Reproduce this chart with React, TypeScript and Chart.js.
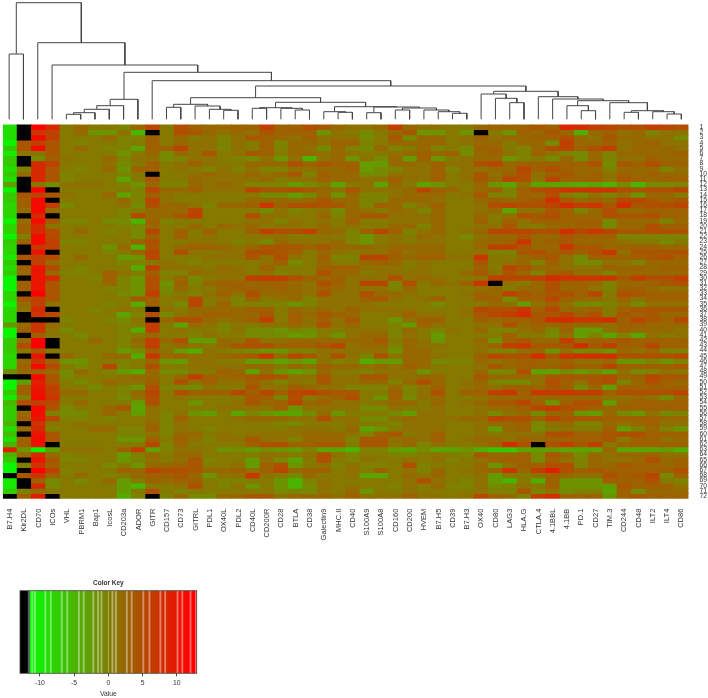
import React, { useEffect, useRef } from "react";
import { Chart, registerables } from "chart.js";

Chart.register(...registerables);

const columnLabels = ["B7.H4","Kir2DL","CD70","ICOs","VHL","PBRM1","Bap1","IcosL","CD203a","ADOR","GITR","CD157","CD73","GITRL","PDL1","OX40L","PDL2","CD40L","CD200R","CD28","BTLA","CD38","Galectin9","MHC.II","CD40","S100A9","S100A8","CD160","CD200","HVEM","B7.H5","CD39","B7.H3","OX40","CD80","LAG3","HLA.G","CTLA.4","4.1BBL","4.1BB","PD.1","CD27","TIM.3","CD244","CD48","ILT2","ILT4","CD86"];
const rowLabels = ["1","2","3","4","5","6","7","8","9","10","11","12","13","14","15","16","17","18","19","20","21","22","23","24","25","26","27","28","29","30","31","32","33","34","35","36","37","38","39","40","41","42","43","44","45","46","47","48","49","50","51","52","53","54","55","56","57","58","59","60","61","62","63","64","65","66","67","68","69","70","71","72"];

const r01 = [-9,-12,12,8, 0,2,0,0,-1,2,6,0,5,3,2,2,3, 3,7,3,3,5,4,2,1,1,2,7,2,1,1,0,0,2, 3,3,3,4,3,10,9,7,6,5,5,7,6,5];
const r02 = [-9,-12,7,6, 0,2,-3,-3,1,-7,-12,0,5,4,2,1,2, 1,4,3,3,3,-3,1,0,-2,0,2,4,-3,-3,0,-3,-12, 0,-3,3,2,4,2,-6,2,3,1,2,-1,1,1];
const r03 = [-9,-12,11,6, 0,0,0,2,-1,-1,3,0,2,0,1,-1,1, 4,3,2,1,3,1,1,1,-2,0,4,-2,2,2,0,1,3, 1,2,2,3,3,5,2,1,4,2,2,1,1,-2];
const r04 = [-11,4,6,4, 0,-1,0,0,-1,0,3,0,2,1,1,-1,1, 0,3,-1,2,2,1,3,3,-1,0,2,2,2,2,0,1,2, 2,0,2,2,-2,7,2,2,3,1,2,3,1,1];
const r05 = [-7,4,11,4, 0,2,0,-1,-1,-5,3,3,6,1,1,-1,1, 0,3,-1,2,1,-2,2,-1,-2,2,-1,0,2,-1,0,-2,3, 3,0,-1,2,5,6,3,5,7,1,2,2,2,1];
const r06 = [-10,1,1,4, 0,0,0,0,-3,0,2,-2,2,1,4,0,1, 4,3,0,2,2,1,2,1,0,0,1,2,3,2,3,-2,2, 3,1,-1,3,1,-1,-2,2,-1,2,2,2,2,3];
const r07 = [-7,-12,-1,3, 1,0,0,2,-1,1,1,-2,-1,1,1,0,-1, -2,1,-3,1,-7,1,2,-3,1,-2,2,-4,3,-3,0,1,2, 2,-3,-1,0,-2,2,-2,2,-1,1,1,3,2,2];
const r08 = [-7,-12,8,6, 0,0,0,1,-2,0,3,0,1,3,1,0,0, 2,2,2,5,3,4,3,3,-4,-4,2,2,1,3,1,1,5, 6,2,3,3,3,3,3,5,-2,4,3,5,3,3];
const r09 = [-9,0,8,4, 0,-1,0,2,-3,3,3,0,1,0,-1,1,-1, 1,-1,-1,1,1,2,2,3,-4,-2,-1,1,1,3,-1,1,1, 2,2,6,3,5,3,2,2,-1,2,2,2,-1,1];
const r10 = [-7,2,8,4, -1,0,0,0,-1,0,-12,0,0,1,2,1,1, 2,1,2,4,-1,3,2,2,-2,-2,1,1,1,3,0,1,4, 1,3,5,1,3,4,2,3,1,3,2,3,2,2];
const r11 = [-9,-12,8,4, -1,0,0,0,-5,0,4,0,0,2,1,1,1, 1,2,0,1,1,3,2,2,1,1,3,1,1,3,0,1,4, 2,6,5,1,6,3,3,3,1,4,3,2,3,3];
const r12 = [-3,-12,1,-1, 1,1,1,0,-1,-3,2,-1,-1,2,1,2,1, -1,-1,-1,-4,-2,0,-5,0,1,-5,2,0,-5,-3,0,0,2, -3,-5,1,-5,-5,-5,-6,-5,-7,-2,-7,-2,-2,-1];
const r13 = [-11,-12,12,-12, 0,0,0,0,0,-1,6,2,2,3,1,1,1, 6,4,4,5,4,2,1,4,1,1,1,2,6,3,2,0,2, 3,-1,3,5,6,8,8,8,8,5,4,5,5,6];
const r14 = [-7,4,6,4, 1,0,0,2,-5,-1,3,1,0,0,0,0,0, 0,-2,-2,-4,-2,2,-3,2,-1,-1,1,2,2,2,0,1,4, -1,-1,3,2,5,0,-2,1,-1,1,-3,2,2,0];
const r15 = [-7,3,11,-12, 0,0,0,0,2,-1,6,1,0,0,0,0,0, 2,2,2,1,2,4,2,2,-1,-1,2,2,2,1,0,0,2, 3,2,3,4,9,4,2,3,2,6,6,4,3,4];
const r16 = [-8,3,11,6, -2,0,0,0,1,-2,5,2,2,1,-1,2,2, 3,8,3,5,5,4,4,2,-1,3,2,-1,1,3,0,0,1, 5,6,5,5,6,9,7,8,4,9,4,5,5,6];
const r17 = [-8,2,11,2, 0,0,0,0,-1,0,2,2,2,6,0,0,0, 0,-2,1,-1,0,1,-2,2,1,0,2,1,-1,2,0,0,1, 2,-5,1,1,4,3,-1,2,5,2,2,3,3,3];
const r18 = [-8,-12,8,-12, 0,0,0,0,-1,6,2,2,4,7,0,0,0, 5,1,1,0,0,2,-1,2,4,4,1,1,1,2,0,0,2, 0,1,5,4,5,3,2,2,5,4,4,5,3,3];
const r19 = [-11,2,11,4, -1,-1,0,-2,-2,-7,3,-1,0,0,0,0,0, 1,1,-1,1,0,1,0,3,0,0,1,1,1,2,0,0,3, 0,3,1,3,3,3,3,3,-2,2,2,2,-1,2];
const r20 = [-8,3,8,1, 0,0,0,0,-1,-2,2,0,0,2,0,2,1, 2,0,1,1,0,2,0,1,0,0,2,2,-1,2,0,0,1, 1,4,0,0,2,2,3,3,-2,2,2,5,3,3];
const r21 = [-8,3,8,5, 0,2,0,-1,0,-2,6,0,3,0,3,0,0, 3,7,5,5,7,2,2,-1,3,6,3,-1,1,2,0,1,2, 6,6,6,5,5,9,6,8,6,4,4,5,5,5];
const r22 = [-11,0,11,5, 0,0,0,0,0,-2,3,0,3,0,1,0,0, 0,1,1,0,0,1,0,-1,-3,0,1,0,2,1,0,-2,1, 2,2,4,2,2,4,3,3,3,-1,-1,-1,-1,-1];
const r23 = [-7,3,11,6, -1,-1,0,0,0,3,5,0,0,1,1,0,-1, 0,-2,2,1,1,1,2,-1,-3,0,1,0,1,1,0,0,2, 2,3,8,2,3,4,2,2,2,1,0,0,-2,0];
const r24 = [-8,-12,7,6, 0,0,0,-3,2,-7,4,0,2,3,3,2,1, 2,4,4,4,3,4,2,2,2,1,2,2,2,2,0,0,2, 7,7,4,2,2,8,4,4,2,3,3,3,2,2];
const r25 = [-8,-12,10,-12, 0,0,0,-1,0,3,6,0,5,1,0,1,1, 5,5,4,3,0,2,1,0,1,1,3,1,2,2,0,0,1, -1,-1,4,5,3,4,3,5,8,1,4,4,4,5];
const r26 = [-10,4,6,5, 0,2,0,0,-4,-3,6,0,0,0,1,1,1, 4,1,5,1,0,3,-1,-1,6,6,3,2,3,3,1,1,8, 0,0,2,3,4,1,-2,3,3,3,3,4,5,3];
const r27 = [-7,-12,6,2, 0,0,0,0,-1,-1,0,1,0,-1,0,0,0, 0,1,3,-2,0,2,0,0,2,3,2,0,1,0,0,0,4, 0,1,2,-1,3,1,-2,-2,1,1,-1,2,2,2];
const r28 = [-9,3,10,5, 0,-1,0,0,0,-6,7,1,1,1,0,2,1, 0,3,0,0,0,3,3,3,1,1,1,0,1,0,0,0,3, 0,6,4,2,2,1,1,1,3,2,3,2,3,3];
const r29 = [-7,2,10,2, -1,-1,0,3,1,0,3,-1,-1,2,1,1,1, 0,1,-1,0,0,5,2,2,0,1,1,1,1,0,0,2,4, 1,4,2,-1,3,4,1,1,-1,2,2,2,2,2];
const r30 = [-11,-12,10,8, 0,0,-1,3,-1,-3,5,0,2,-2,0,1,1, 7,7,7,5,3,2,3,1,1,1,5,1,2,1,0,0,1, 7,6,6,7,9,8,8,8,8,4,7,5,5,7];
const r31 = [-11,3,10,4, 0,0,0,2,-1,-3,5,-3,3,-1,2,3,3, 2,3,3,2,1,5,3,1,6,6,-1,5,0,2,1,3,8, -12,1,0,2,5,3,3,2,-1,2,2,3,4,5];
const r32 = [-11,3,10,4, 0,0,0,-1,-1,-3,5,-2,2,0,0,2,3, 3,2,3,2,1,3,2,1,1,1,-1,2,0,0,0,0,1, 2,0,2,2,5,2,3,1,-1,3,3,2,1,1];
const r33 = [-8,-12,12,4, 0,0,0,0,-2,-3,7,-1,0,-1,1,3,1, 5,2,2,2,1,5,1,1,5,2,2,1,0,0,0,1,3, 2,7,4,3,4,5,3,6,0,5,4,3,3,3];
const r34 = [-8,4,6,4, 0,0,0,0,0,4,3,0,1,6,0,1,-1, 3,0,1,2,-1,1,1,1,3,4,1,0,1,3,0,0,3, 3,-2,3,3,6,3,2,2,0,3,1,3,3,3];
const r35 = [-11,2,6,1, 0,0,0,-1,0,-6,3,0,-2,6,0,3,-1, -1,-1,-1,-3,-1,1,1,1,1,0,0,0,0,-2,0,0,0, 2,1,-4,1,3,1,-2,-2,-1,1,-2,1,1,1];
const r36 = [-8,1,8,-12, 0,0,-1,0,1,0,-12,1,0,2,2,2,2, 3,3,0,2,1,2,1,3,1,1,1,1,0,0,0,1,6, 5,5,8,3,6,2,2,3,0,3,4,4,4,4];
const r37 = [-8,-12,7,5, 0,0,0,0,-5,-1,5,-2,1,2,3,3,2, 2,4,0,3,2,4,3,2,0,0,1,3,1,1,0,1,4, 6,7,9,4,4,6,3,5,0,4,3,4,2,2];
const r38 = [-8,-12,-12,-12, -1,0,0,-1,-2,1,-12,2,5,5,2,1,2, 3,7,0,3,1,3,1,4,0,0,-3,1,3,3,0,0,3, 2,3,3,4,9,9,8,8,9,3,6,4,3,6];
const r39 = [-2,2,7,2, 0,0,0,0,-1,0,7,0,-5,2,1,-1,0, 0,1,1,2,1,5,1,2,0,0,-1,-4,3,1,0,0,1, 1,5,2,3,2,3,2,2,1,3,3,2,2,2];
const r40 = [-11,3,7,1, -2,0,0,0,-1,-6,7,0,1,0,0,-1,1, -2,-2,-3,-1,-2,0,0,1,1,1,-1,2,0,-1,1,0,2, -1,-1,1,2,-1,3,-4,-4,1,3,2,2,2,1];
const r41 = [-11,-12,3,1, 0,-2,0,0,-1,0,2,0,0,-1,1,0,0, -2,-2,-2,-4,-3,0,-3,1,2,2,-1,1,0,-4,0,0,0, 0,3,0,0,-2,1,-4,-1,-5,-1,-5,1,0,1];
const r42 = [-7,2,12,-12, 0,0,2,0,-1,2,7,2,5,-4,-4,2,1, 4,1,1,2,2,2,2,2,2,4,0,2,1,-3,0,0,2, -3,3,4,2,2,7,2,3,3,4,3,3,3,3];
const r43 = [-7,5,12,-12, 0,0,0,0,-1,1,7,0,2,1,0,2,4, 5,5,3,3,3,4,6,1,2,2,-1,2,1,1,0,0,1, 3,7,8,4,4,4,9,4,7,3,3,6,3,3];
const r44 = [-7,1,4,1, 0,0,0,0,-4,-2,3,1,-4,-6,1,0,-1, -2,-3,-3,-1,-1,1,1,1,1,1,-3,2,2,0,0,0,1, -1,-1,1,2,-3,1,-2,-1,-3,2,1,2,-1,-1];
const r45 = [-8,-12,10,-12, 2,0,0,2,2,-6,8,2,3,1,1,2,3, 4,8,2,6,4,1,5,1,-1,5,1,2,2,1,0,0,3, 6,5,5,9,4,8,9,9,9,5,5,5,5,6];
const r46 = [-8,2,7,3, -3,-3,0,0,-1,0,2,-3,-4,1,1,0,0, -4,-3,-5,-3,-5,1,-1,0,-6,-4,-4,2,2,-2,-1,-1,2, 1,2,3,3,2,3,1,1,2,-3,-3,-1,-3,-1];
const r47 = [-8,3,11,5, 0,-2,0,6,-1,0,5,0,0,1,1,1,1, 2,2,0,2,1,3,2,2,1,2,1,3,2,0,0,0,1, 4,2,3,3,3,4,3,3,6,3,3,3,3,4];
const r48 = [-1,2,3,2, -2,2,0,-1,-4,-6,2,-2,-2,0,0,3,2, -5,1,-3,-5,-3,2,0,0,-1,1,1,1,-3,0,0,0,2, -2,-1,5,-5,-5,-2,-4,-2,-5,1,-2,-1,1,0];
const r49 = [-12,-12,11,4, -2,0,0,0,1,2,2,0,2,7,3,2,3, 4,5,4,1,1,4,1,1,4,4,1,1,2,2,0,0,4, 2,2,2,1,4,4,4,4,5,2,3,6,4,4];
const r50 = [-11,-3,9,4, 0,-2,0,2,1,1,3,0,5,1,3,1,1, 3,1,-1,1,0,4,1,1,2,2,-1,2,5,2,0,1,2, -1,-2,-2,1,5,3,1,4,5,-1,2,5,3,2];
const r51 = [-11,3,10,6, 0,0,-2,0,-1,-3,5,-1,-1,-2,1,0,0, 4,1,1,3,2,1,1,-1,-1,-1,2,-1,1,3,0,1,2, 1,3,3,2,4,3,-2,2,-4,3,3,3,3,3];
const r52 = [-7,3,10,6, 2,2,0,0,-1,2,6,0,5,3,3,3,6, 3,6,3,6,7,5,4,4,0,0,3,-1,1,5,0,3,3, 7,8,3,8,7,8,7,7,3,5,5,5,5,6];
const r53 = [-10,0,11,7, 0,0,0,0,-2,1,5,0,1,0,0,0,0, 4,3,-1,5,0,2,3,5,0,-3,3,-2,1,2,0,0,1, 2,2,3,2,2,2,2,2,1,1,2,1,-2,2];
const r54 = [-5,5,6,5, 0,2,0,0,0,-4,5,0,0,-3,0,0,1, 4,2,3,6,2,3,1,1,0,1,2,2,0,2,0,1,2, 4,4,6,3,-3,3,5,5,-4,2,3,3,3,3];
const r55 = [-7,-12,11,4, -2,0,0,2,4,-5,1,0,0,0,0,1,1, 1,1,3,-3,1,1,1,1,-2,-2,1,0,0,1,0,0,1, 2,2,3,6,8,5,4,3,2,3,3,3,3,3];
const r56 = [-7,2,11,0, -2,-2,0,2,0,-4,1,-1,1,-3,-4,0,-5, -1,-3,-5,-5,-2,2,-3,0,0,0,-2,-4,1,1,0,0,1, -2,1,2,-2,2,3,-3,-4,2,-2,-3,1,-2,-1];
const r57 = [-7,3,10,5, -1,-1,0,-1,0,0,1,-1,3,0,0,0,1, 2,2,2,1,1,5,1,1,-2,-2,1,2,1,1,1,2,2, 6,5,5,3,6,4,4,4,3,3,3,3,2,2];
const r58 = [-5,-12,7,1, 0,1,0,0,0,0,2,-1,1,0,0,0,0, 0,0,-1,-2,0,0,0,1,0,0,-1,1,1,1,0,0,1, 2,2,3,-2,1,2,-1,-1,2,1,2,3,1,1];
const r59 = [-9,2,8,0, 0,0,2,2,-1,-1,3,-1,1,0,-1,0,0, 0,0,0,1,1,1,0,2,-5,-3,0,1,1,1,0,0,1, -4,2,3,-2,0,1,0,0,3,-4,-1,2,-1,-3];
const r60 = [-6,-12,10,4, 0,0,0,0,-1,-1,1,-1,2,2,0,1,0, 1,1,1,1,2,2,2,1,-1,3,4,0,1,3,0,0,1, 0,1,1,1,5,5,3,3,4,5,5,3,3,3];
const r61 = [-9,3,11,4, 0,0,0,0,-3,-3,3,0,3,1,-1,1,1, 4,1,1,-1,2,2,2,-1,4,4,1,2,1,3,0,1,2, 2,1,3,2,3,3,3,3,4,0,3,3,1,2];
const r62 = [-5,3,10,-12, 0,0,0,0,0,0,6,-1,2,0,0,0,0, 3,5,5,3,3,4,4,0,4,4,1,2,-1,1,0,0,1, 3,9,5,-12,5,7,4,7,0,3,3,3,3,3];
const r63 = [9,-2,-11,-3, 1,1,1,0,3,7,-5,-1,1,1,0,-3,-2, -4,-2,-3,-4,-1,-5,-5,-7,-1,-1,-4,-5,-2,-5,-5,-3,-6, -9,-9,-5,-4,-4,-5,-5,-5,2,-5,-5,-5,-4,-6];
const r64 = [-5,2,8,2, -1,0,0,0,-4,-1,2,0,2,2,0,0,0, 0,1,1,0,1,5,1,-1,0,0,-1,-1,0,1,0,-1,4, 2,2,3,-2,4,2,-2,2,1,2,2,3,1,1];
const r65 = [-7,-12,10,4, -1,-1,0,0,-3,-1,1,0,1,4,-1,0,0, -4,1,-2,-5,0,5,0,-1,1,0,0,1,0,1,-1,0,1, 3,3,3,-2,3,1,-1,2,1,1,2,5,2,3];
const r66 = [-11,0,7,3, 0,0,0,-2,0,-3,2,2,3,4,0,0,1, -4,3,5,-3,0,1,-1,1,-1,-1,0,5,-1,0,0,0,2, -3,1,3,3,5,5,-1,2,2,4,3,3,2,3];
const r67 = [-11,-12,12,6, -1,0,0,0,3,2,6,5,5,4,2,2,3, 1,3,6,2,3,3,0,1,0,3,0,1,-1,2,0,1,2, 3,8,2,7,11,5,3,4,3,3,3,3,3,5];
const r68 = [-12,4,7,3, 0,2,0,-1,0,2,3,3,4,2,-3,1,1, 8,1,0,-2,2,0,0,1,-5,-5,0,2,1,2,0,0,1, -4,0,0,1,3,2,1,1,5,3,4,6,-2,3];
const r69 = [-10,-12,3,-1, 0,-2,0,2,-4,0,3,2,3,3,0,-1,-1, 0,0,-3,-7,-1,1,0,0,0,0,0,1,5,1,0,-1,1, -4,-7,0,-6,3,-3,-3,-3,3,3,3,5,0,-1];
const r70 = [-10,-12,8,-1, 0,0,0,0,-4,-7,0,0,1,5,0,-1,1, -3,0,-3,-7,-2,1,0,1,0,0,-1,1,0,2,-1,-1,1, -2,-1,1,0,3,-3,-3,-3,-4,4,3,3,3,1];
const r71 = [-7,0,2,1, 0,0,0,0,-4,0,5,0,-1,0,0,0,0, 0,0,-2,-1,-2,1,0,2,-3,0,0,1,0,0,0,0,1, -1,-1,4,-1,1,-2,-1,-1,-5,3,-2,2,2,2];
const r72 = [-12,3,9,-12, 0,0,0,0,-6,-1,-12,-1,2,-2,-2,2,2, 4,4,1,2,2,2,1,3,1,1,1,3,1,1,0,1,6, 3,2,-1,7,9,3,3,3,-3,3,4,3,3,3];

const heatRows = [r01,r02,r03,r04,r05,r06,r07,r08,r09,r10,r11,r12,r13,r14,r15,r16,r17,r18,r19,r20,r21,r22,r23,r24,r25,r26,r27,r28,r29,r30,r31,r32,r33,r34,r35,r36,r37,r38,r39,r40,r41,r42,r43,r44,r45,r46,r47,r48,r49,r50,r51,r52,r53,r54,r55,r56,r57,r58,r59,r60,r61,r62,r63,r64,r65,r66,r67,r68,r69,r70,r71,r72];

// hclust-style merge table: negative = column (1-based), positive = earlier merge (1-based); third = height
const dendroMerges: [number, number, number][] = [
  [-1,-2,65.5],[-5,-6,5.2],[2,-7,6.8],[3,-8,10.2],[4,-9,13.8],[5,-10,20.2],
  [-12,-13,12.2],[-16,-17,9.2],[-15,8,10.2],[-14,9,13.5],[7,10,15.2],
  [-18,-19,11.2],[-21,-22,9.5],[-20,13,11.2],[12,14,11.8],
  [-24,-25,7.2],[-23,16,7.8],[-26,-27,6.8],[-28,-29,9.5],[-32,-33,6.2],[-31,20,7.8],[-30,21,9.5],
  [19,22,11.5],[18,23,12.5],[17,24,12.8],[15,25,17.2],[11,26,21.8],
  [-36,-37,16.8],[-35,28,21.2],[-34,29,25.5],
  [-41,-42,8.8],[-40,31,13.8],[-44,-45,7.2],[-47,-48,5.5],[-46,34,7.8],[33,35,8.8],[-43,36,16.8],
  [32,37,18.8],[-39,38,20.5],[-38,39,22.8],[30,40,28.2],[27,41,33.5],[-11,42,38.8],[6,43,47.2],
  [-4,44,54.5],[-3,45,76.8],[1,46,116.8],
];

const keyBreaks = [-11.5,-11,-10.5,-10,-9.5,-9,-8.5,-8,-7.5,-7,-6.5,-6,-5.5,-5,-4.5,-4,-3.5,-3,-2.5,-2,-1.5,-1,-0.5,0,0.5,1,1.5,2,2.5,3,3.5,4,4.5,5,5.5,6,6.5,7,7.5,8,8.5,9,9.5,10,10.5,11,11.5,12,12.5,12.9];
const keyStripes = [-11.1,-10.7,-9.2,-8.4,-6.8,-6.0,-4.3,-3.6,-2.2,-1.5,-1.0,0.6,1.1,2.7,3.4,5.1,6.0,7.6,8.3,10.1,10.8,12.0,12.8];
const keyTicks = [-10,-5,0,5,10];
const keyMin = -12.9;
const keyMax = 12.9;
const keyBlackEnd = -11.8;

const FONT = "'Liberation Sans', Arial, sans-serif";
const TEXT = "#333333";

function cellColor(v: number): string {
  if (v < -11.5) return "#000000";
  const t = Math.min(1, Math.max(0, (v + 12) / 24));
  return `rgb(${Math.round(255 * t)},${Math.round(255 * (1 - t))},0)`;
}

function softCellColor(v: number, column: number): string {
  if (v < -11.5 || column < 4) return cellColor(v);
  return cellColor(v * 0.8 + 0.6);
}

const quiet = { legend: { display: false }, tooltip: { enabled: false }, title: { display: false } };

export default function App() {
  const heatRef = useRef<HTMLCanvasElement>(null);
  const dendroRef = useRef<HTMLCanvasElement>(null);
  const keyRef = useRef<HTMLCanvasElement>(null);

  useEffect(() => {
    const heat = new Chart(heatRef.current!, {
      type: "bar",
      data: {
        labels: columnLabels,
        datasets: heatRows.map((row, r) => ({
          label: rowLabels[r],
          data: columnLabels.map(() => [r, r + 1]),
          backgroundColor: row.map(softCellColor),
          borderWidth: 0,
          inflateAmount: 0.4,
          grouped: false,
          barPercentage: 1,
          categoryPercentage: 1,
        })),
      } as any,
      options: {
        responsive: false,
        animation: false,
        layout: { padding: { left: 2, top: 124.5, right: 0, bottom: 0 } },
        plugins: quiet,
        scales: {
          x: {
            type: "category",
            grid: { display: false, drawTicks: false },
            border: { display: false },
            ticks: { autoSkip: false, minRotation: 90, maxRotation: 90, padding: 10, color: TEXT, font: { family: FONT, size: 7.5 } },
            afterFit: (s: any) => { s.height = 76.3; },
          },
          y: { type: "linear", min: 0, max: 72, reverse: true, display: false },
          y2: {
            type: "category",
            labels: rowLabels,
            position: "right",
            offset: true,
            grid: { display: false, drawTicks: false },
            border: { display: false },
            ticks: { autoSkip: false, padding: 11, color: TEXT, font: { family: FONT, size: 6.8 } },
            afterFit: (s: any) => { s.width = 19.5; },
          },
        },
      } as any,
    });

    const nodeX: number[] = [];
    const at = (id: number) => (id < 0 ? { x: -id - 1, y: 0 } : { x: nodeX[id - 1], y: dendroMerges[id - 1][2] });
    const dendroSets = dendroMerges.map(([a, b, h], i) => {
      const pa = at(a);
      const pb = at(b);
      nodeX[i] = (pa.x + pb.x) / 2;
      return {
        data: [pa, { x: pa.x, y: h }, { x: pb.x, y: h }, pb],
        showLine: true,
        pointRadius: 0,
        borderColor: "#444444",
        borderWidth: 1,
      };
    });
    const dendro = new Chart(dendroRef.current!, {
      type: "scatter",
      data: { datasets: dendroSets },
      options: {
        responsive: false,
        animation: false,
        layout: { padding: { left: 2, right: 19.5, top: 0, bottom: 4.5 } },
        plugins: quiet,
        scales: {
          x: { type: "linear", min: -0.5, max: 47.5, display: false },
          y: { type: "linear", min: 0, max: 119.5, display: false },
        },
      } as any,
    });

    const stripeSets = keyStripes.map((v) => ({
      data: [[v - 0.09, v + 0.09]],
      backgroundColor: "rgba(255,255,255,0.4)",
      borderWidth: 0,
      grouped: false,
      barPercentage: 1,
      categoryPercentage: 1,
    }));
    const baseSets = keyBreaks.slice(0, -1).map((from, i) => ({
      data: [[from, keyBreaks[i + 1]]],
      backgroundColor: cellColor((from + keyBreaks[i + 1]) / 2),
      borderWidth: 0,
      inflateAmount: 0.4,
      grouped: false,
      barPercentage: 1,
      categoryPercentage: 1,
    }));
    const blackSet = {
      data: [[keyMin, keyBlackEnd]],
      backgroundColor: "#000000",
      borderWidth: 0,
      grouped: false,
      barPercentage: 1,
      categoryPercentage: 1,
    };
    const gapSet = {
      data: [[keyBlackEnd, -11.5]],
      backgroundColor: "#5a625a",
      borderWidth: 0,
      grouped: false,
      barPercentage: 1,
      categoryPercentage: 1,
    };
    const frame = {
      id: "frame",
      afterDatasetsDraw(c: any) {
        const a = c.chartArea;
        const g = c.ctx;
        g.save();
        g.strokeStyle = "#444444";
        g.lineWidth = 0.8;
        g.strokeRect(a.left, a.top, a.right - a.left, a.bottom - a.top);
        g.restore();
      },
    };
    const key = new Chart(keyRef.current!, {
      type: "bar",
      data: { labels: ["Color Key"], datasets: [...stripeSets, blackSet, gapSet, ...baseSets] } as any,
      options: {
        indexAxis: "y",
        responsive: false,
        animation: false,
        layout: { padding: { left: 20, right: 20.3, top: 3.9, bottom: 0 } },
        plugins: {
          legend: { display: false },
          tooltip: { enabled: false },
          title: { display: true, text: "Color Key", color: TEXT, font: { family: FONT, size: 6.5, weight: "bold" }, padding: { top: 0, bottom: 4 } },
        },
        scales: {
          x: {
            type: "linear",
            min: keyMin,
            max: keyMax,
            afterBuildTicks: (s: any) => { s.ticks = keyTicks.map((value) => ({ value })); },
            grid: { drawOnChartArea: false, drawTicks: true, tickLength: 3, color: "#444444" },
            border: { display: false },
            ticks: { autoSkip: false, maxRotation: 0, padding: 3, color: TEXT, font: { family: FONT, size: 6.8 } },
            title: { display: true, text: "Value", color: TEXT, font: { family: FONT, size: 6.8 }, padding: { top: 2, bottom: 0 } },
            afterFit: (s: any) => { s.height = 24.7; },
          },
          y: { type: "category", display: false },
        },
      } as any,
      plugins: [frame],
    });

    return () => {
      heat.destroy();
      dendro.destroy();
      key.destroy();
    };
  }, []);

  const place = (left: number, top: number): React.CSSProperties => ({ position: "fixed", left, top, display: "block", filter: "blur(0.5px)" });
  return (
    <div style={{ position: "fixed", left: 0, top: 0, width: 708, height: 698, background: "#ffffff" }}>
      <canvas ref={heatRef} width={708} height={575} style={place(0, 0)} />
      <canvas ref={dendroRef} width={708} height={124} style={place(0, 0)} />
      <canvas ref={keyRef} width={217} height={123} style={place(0, 575)} />
    </div>
  );
}
